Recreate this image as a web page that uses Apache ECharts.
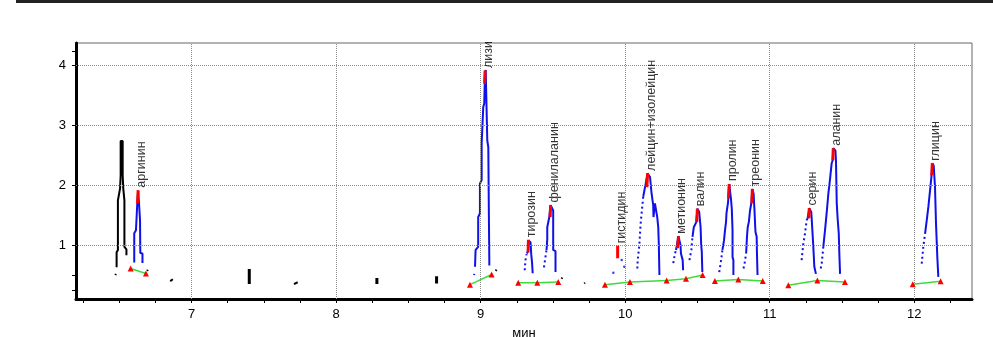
<!DOCTYPE html>
<html><head><meta charset="utf-8">
<script src="https://cdn.jsdelivr.net/npm/echarts@6/dist/echarts.min.js"></script>
<style>html,body{margin:0;padding:0;background:#fff}#c{width:993px;height:337px}</style>
</head><body><div id="c"></div>
<script>
// ---- axis ticks / labels ----
const xTickValues = [6.25,6.5,6.75,7,7.25,7.5,7.75,8,8.25,8.5,8.75,9,9.25,9.5,9.75,10,10.25,10.5,10.75,11,11.25,11.5,11.75,12,12.25];
const xLabelValues = [7,8,9,10,11,12];
const yTickValues = [0.25,0.5,1,2,3,4,4.25];
const yLabelValues = [1,2,3,4];
const xGridValues = [7,8,9,10,11,12];
const yGridValues = [1,2,3,4];

// ---- peak labels ----
const peakNames = ['аргинин','лизи','тирозин','фенилаланин','гистидин','лейцин+изолейцин','метионин','валин','пролин','треонин','серин','аланин','глицин'];
const apexTime  = [6.630, 9.031, 9.331, 9.484, 9.948, 10.155, 10.369, 10.500, 10.720, 10.880, 11.274, 11.440, 12.125];
const apexValue = [1.92, 3.92, 1.09, 1.67, 0.99, 2.20, 1.15, 1.61, 2.03, 1.94, 1.62, 2.62, 2.37];

// ---- black (unidentified) trace ----
const blackTrace = [[6.481,0.63],[6.481,0.88],[6.490,0.92],[6.490,1.75],[6.505,1.95],[6.509,2.17],[6.509,2.74],[6.523,2.74],[6.523,2.17],[6.527,1.95],[6.535,1.75],[6.535,0.97],[6.549,0.93],[6.549,0.83]];
const blackSpecks = [
  [[6.473,0.50],[6.476,0.52]],
  [[6.692,0.57],[6.697,0.59]],
  [[6.852,0.40],[6.870,0.43]],
  [[7.708,0.35],[7.734,0.38]],
  [[9.104,0.57],[9.110,0.59]],
  [[9.560,0.44],[9.565,0.46]],
  [[9.717,0.36],[9.722,0.37]]
];
const blackBlobs = [
  [[7.399,0.35],[7.399,0.60]],
  [[8.282,0.35],[8.282,0.45]],
  [[8.695,0.36],[8.695,0.48]]
];

// ---- blue traces (solid) ----
const argBlue = [[6.603,0.71],[6.603,1.20],[6.615,1.25],[6.624,1.70],[6.630,1.90],[6.636,1.70],[6.643,1.42],[6.645,0.87],[6.660,0.86],[6.660,0.70]];
const lysBlue = [[8.961,0.64],[8.965,0.92],[8.983,0.97],[8.983,1.47],[8.995,1.53],[8.995,2.03],[9.007,2.09],[9.007,2.70],[9.018,3.31],[9.025,3.37],[9.030,3.87],[9.035,3.93],[9.046,3.93],[9.046,2.75],[9.053,2.64],[9.057,1.50],[9.060,0.75],[9.060,0.66]];
const tyrBlue = [[9.320,0.86],[9.328,0.90],[9.331,1.08],[9.345,1.05],[9.350,0.85],[9.356,0.70],[9.360,0.53]];
const pheBlue = [[9.456,0.92],[9.461,1.10],[9.461,1.30],[9.475,1.47],[9.481,1.50],[9.484,1.67],[9.495,1.66],[9.502,1.58],[9.502,0.92],[9.518,0.90],[9.518,0.55]];
const leuBlue = [[10.125,1.81],[10.142,2.03],[10.150,2.05],[10.155,2.20],[10.165,2.20],[10.172,2.14],[10.183,1.86],[10.194,1.67],[10.196,1.47],[10.206,1.70],[10.218,1.67],[10.222,1.47],[10.229,1.30],[10.233,1.00],[10.237,0.50]];
const metBlue = [[10.352,0.92],[10.362,0.95],[10.369,1.15],[10.379,1.14],[10.383,1.00],[10.386,0.86],[10.398,0.75],[10.401,0.58]];
const valBlue = [[10.466,1.14],[10.475,1.30],[10.493,1.39],[10.500,1.61],[10.512,1.56],[10.522,1.30],[10.526,1.00],[10.530,0.90],[10.534,0.55]];
const proBlue = [[10.673,0.92],[10.684,1.08],[10.691,1.25],[10.698,1.39],[10.701,1.53],[10.711,1.70],[10.714,1.78],[10.720,2.02],[10.728,2.00],[10.732,1.78],[10.738,1.60],[10.743,1.25],[10.743,0.80],[10.749,0.75],[10.749,0.50]];
const thrBlue = [[10.837,0.86],[10.843,1.14],[10.848,1.30],[10.856,1.39],[10.864,1.58],[10.873,1.70],[10.878,1.72],[10.880,1.94],[10.889,1.86],[10.891,1.75],[10.895,1.58],[10.900,1.30],[10.902,1.22],[10.910,1.14],[10.912,0.86],[10.916,0.50]];
const serBlue = [[11.262,1.44],[11.272,1.47],[11.274,1.62],[11.288,1.55],[11.290,1.47],[11.298,1.14],[11.302,0.97],[11.309,0.64],[11.320,0.52]];
const alaBlue = [[11.371,0.97],[11.383,1.25],[11.394,1.53],[11.406,1.86],[11.417,2.09],[11.429,2.37],[11.436,2.42],[11.440,2.62],[11.455,2.58],[11.459,2.39],[11.464,1.70],[11.471,1.42],[11.478,1.20],[11.482,0.86],[11.487,0.52]];
const glyBlue = [[12.075,1.19],[12.087,1.42],[12.098,1.64],[12.110,1.92],[12.119,2.14],[12.121,2.17],[12.125,2.37],[12.135,2.33],[12.137,2.31],[12.144,1.97],[12.151,1.36],[12.160,0.80],[12.167,0.47]];

// ---- blue traces (sparse, dotted rising flanks) ----
const lysDots = [[8.954,0.50],[8.956,0.52]];
const tyrDots = [[9.305,0.58],[9.310,0.75],[9.318,0.85]];
const pheDots = [[9.438,0.63],[9.452,0.86],[9.456,0.92]];
const hisDots = [[9.918,0.54],[9.976,0.75],[9.994,0.64]];
const leuDots = [[10.084,0.61],[10.087,0.75],[10.098,1.00],[10.107,1.36],[10.125,1.81]];
const metDots = [[10.333,0.70],[10.345,0.86],[10.352,0.92]];
const valDots = [[10.445,0.75],[10.458,0.92],[10.466,1.14]];
const proDots = [[10.651,0.55],[10.661,0.70],[10.673,0.92]];
const thrDots = [[10.819,0.61],[10.826,0.69],[10.837,0.86]];
const serDots = [[11.221,0.75],[11.233,1.03],[11.244,1.19],[11.256,1.42],[11.262,1.44]];
const alaDots = [[11.353,0.61],[11.360,0.69],[11.371,0.97]];
const glyDots = [[12.052,0.69],[12.063,0.97],[12.075,1.19]];

// ---- red apex segments ----
const apexSegments = [
  [[6.626,1.70],[6.630,1.92]],
  [[9.027,3.70],[9.031,3.92]],
  [[9.328,0.88],[9.331,1.09]],
  [[9.481,1.47],[9.484,1.67]],
  [[9.948,0.78],[9.948,0.99]],
  [[10.150,1.97],[10.155,2.20]],
  [[10.363,0.95],[10.369,1.15]],
  [[10.495,1.39],[10.500,1.61]],
  [[10.715,1.78],[10.720,2.02]],
  [[10.877,1.70],[10.880,1.94]],
  [[11.272,1.45],[11.274,1.62]],
  [[11.437,2.42],[11.440,2.62]],
  [[12.122,2.17],[12.125,2.37]]
];

// ---- green baselines (red triangles at ends) ----
const baselines = [
  [[6.578,0.61],[6.684,0.525]],
  [[8.926,0.34],[9.076,0.51]],
  [[9.260,0.37],[9.392,0.37],[9.537,0.385]],
  [[9.860,0.34],[10.033,0.385],[10.287,0.41],[10.421,0.44],[10.536,0.50]],
  [[10.621,0.40],[10.783,0.425],[10.952,0.40]],
  [[11.129,0.33],[11.330,0.41],[11.521,0.385]],
  [[11.990,0.346],[12.183,0.396]]
];

// ---------------- build ----------------
const BLUE = '#1010e8', RED = '#ff0000', GREEN = '#3ddc3d';
function line(data, color, width, type, z) {
  return {type:'line', data:data, symbol:'none', showSymbol:false, silent:true, animation:false, clip:true,
    lineStyle:{color:color, width:width, type:type||'solid'}, z:z};
}
const series = [];
series.push({type:'line', data:[], silent:true, animation:false, z:1,
  markLine:{silent:true, animation:false, symbol:['none','none'], label:{show:false},
    lineStyle:{type:'dotted', color:'#8a8a8a', width:1},
    data: xGridValues.map(v=>({xAxis:v})).concat(yGridValues.map(v=>({yAxis:v})))}});
series.push(line(blackTrace, '#000', 2, 'solid', 3));
blackSpecks.forEach(s=>series.push(line(s, '#000', 2, 'solid', 3)));
blackBlobs.forEach(s=>series.push(line(s, '#000', 3, 'solid', 3)));
[argBlue,lysBlue,tyrBlue,pheBlue,leuBlue,metBlue,valBlue,proBlue,thrBlue,serBlue,alaBlue,glyBlue]
  .forEach(s=>series.push(line(s, BLUE, 2, 'solid', 4)));
[lysDots,tyrDots,pheDots,leuDots,metDots,valDots,proDots,thrDots,serDots,alaDots,glyDots]
  .forEach(s=>series.push(line(s, BLUE, 2, [2,3], 4)));
series.push({type:'scatter', data:hisDots, symbolSize:2.5, itemStyle:{color:BLUE}, silent:true, animation:false, z:4});
apexSegments.forEach(s=>series.push(line(s, RED, 3, 'solid', 5)));
baselines.forEach(s=>series.push({type:'line', data:s, symbol:'triangle', symbolSize:6, showSymbol:true,
  itemStyle:{color:RED}, lineStyle:{color:GREEN, width:1.5}, silent:true, animation:false, z:6}));
series.push({type:'scatter', symbolSize:1, itemStyle:{color:'transparent'}, silent:true, animation:false, z:7,
  data: peakNames.map((n,i)=>({name:n, value:[apexTime[i], apexValue[i]]})),
  label:{show:true, formatter:'{b}', position:[4,-2], rotate:90, align:'left', verticalAlign:'middle',
    fontFamily:"'Liberation Sans',Arial,sans-serif", fontSize:12.5, color:'#000'}});

const chart = echarts.init(document.getElementById('c'));
chart.setOption({
  animation:false,
  backgroundColor:'#fff',
  grid:{left:76, right:21, top:43, bottom:38, show:true, borderColor:'#666', borderWidth:1, backgroundColor:'transparent',
    containLabel:false, outerBoundsMode:'none'},
  graphic:[{type:'line', shape:{x1:16, y1:1.5, x2:993, y2:1.5}, style:{stroke:'#222', lineWidth:3}, silent:true}],
  xAxis:{type:'value', min:6.2, max:12.4,
    name:'мин', nameLocation:'middle', nameGap:28,
    nameTextStyle:{fontFamily:"'Liberation Sans',Arial,sans-serif", fontSize:13, color:'#000'},
    axisLine:{show:true, onZero:false, lineStyle:{color:'#000', width:3}},
    axisTick:{show:true, customValues:xTickValues, length:4, lineStyle:{color:'#000', width:1}},
    axisLabel:{customValues:xLabelValues, fontFamily:"'Liberation Sans',Arial,sans-serif", fontSize:13, color:'#000', margin:9},
    splitLine:{show:false}},
  yAxis:{type:'value', min:0.1, max:4.38,
    axisLine:{show:true, onZero:false, lineStyle:{color:'#000', width:3}},
    axisTick:{show:true, customValues:yTickValues, length:4, lineStyle:{color:'#000', width:1}},
    axisLabel:{customValues:yLabelValues, fontFamily:"'Liberation Sans',Arial,sans-serif", fontSize:13, color:'#000', margin:10},
    splitLine:{show:false}},
  series:series
});
</script></body></html>
